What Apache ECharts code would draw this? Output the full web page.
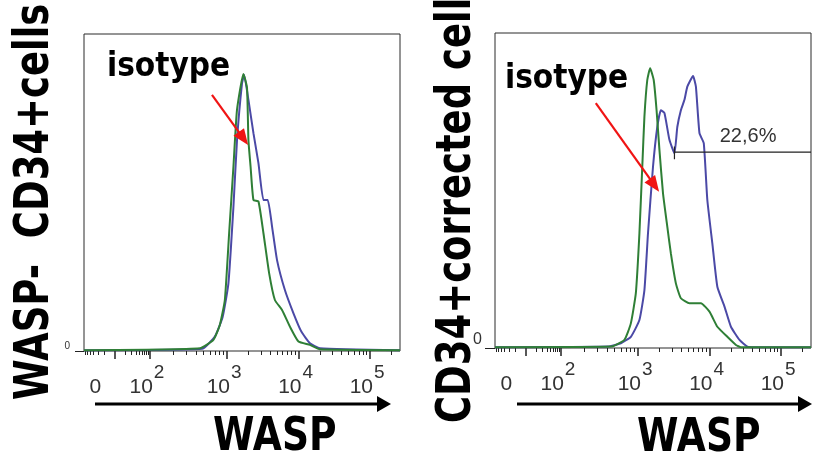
<!DOCTYPE html>
<html>
<head>
<meta charset="utf-8">
<script src="https://cdn.jsdelivr.net/npm/echarts@6.0.0/dist/echarts.min.js"></script>
<style>
html, body { margin: 0; padding: 0; background: #fff; }
#chart { width: 813px; height: 454px; }
</style>
</head>
<body>
<div id="chart"></div>
<script>
// x is in display units of the cytometer scale: 3 = 10^3, 4 = 10^4, 5 = 10^5
// y is % of mode (isotype peak = 100)

// WASP- CD34+ cells (left panel)
var leftIsoX  = [1.0, 2.62, 2.81, 2.90, 2.97, 3.03, 3.09, 3.14, 3.23, 3.28, 3.30, 3.33, 3.37, 3.44, 3.51, 3.59, 3.67, 3.77, 3.88, 4.00, 4.16, 4.30, 5.42];
var leftIsoY  = [0.3, 1.0, 4, 9.4, 18.4, 42.5, 66.5, 87, 100, 95, 76, 66.5, 54.5, 54, 42.5, 28, 18.4, 14.8, 8.8, 3.4, 2.2, 0.6, 0.3];
var leftWaspX = [1.0, 2.65, 2.83, 2.94, 3.02, 3.09, 3.14, 3.21, 3.24, 3.30, 3.37, 3.44, 3.51, 3.57, 3.63, 3.70, 3.81, 3.93, 4.04, 4.16, 4.30, 5.42];
var leftWaspY = [0.3, 0.8, 5.2, 12.4, 24.4, 52, 76, 96.6, 99.6, 90.6, 78.6, 67.8, 54.5, 54.5, 45, 32.8, 22, 13.6, 7, 2.8, 1, 0.3];

// CD34+ corrected cells (right panel)
var rightIsoX  = [1.0, 2.62, 2.81, 2.90, 2.97, 3.02, 3.06, 3.09, 3.13, 3.17, 3.22, 3.26, 3.30, 3.35, 3.41, 3.46, 3.53, 3.60, 3.72, 3.88, 4.00, 4.11, 4.25, 4.37, 4.44, 5.42];
var rightIsoY  = [0.3, 0.5, 2.9, 8.8, 19.6, 41, 64.8, 82.7, 95.8, 100, 95.8, 85, 70.8, 55.3, 43.4, 33.8, 23.1, 17.8, 16, 16, 13, 7.6, 4, 1.1, 0.3, 0.3];
var rightWaspX = [1.0, 2.58, 2.76, 2.90, 3.02, 3.09, 3.14, 3.21, 3.27, 3.32, 3.37, 3.44, 3.51, 3.55, 3.60, 3.65, 3.69, 3.77, 3.81, 3.86, 3.92, 3.97, 4.04, 4.11, 4.21, 4.30, 4.42, 4.53, 4.62, 5.42];
var rightWaspY = [0.3, 0.5, 1.7, 4, 10, 20.7, 41, 64.8, 79, 85, 84, 74.4, 69.6, 79, 85, 88.7, 93.4, 97.2, 93.4, 76.8, 73.2, 52.9, 37.4, 21.9, 14.8, 7.6, 2.9, 0.5, 0.3, 0.3];

// gate on the right panel
var gateX = [3.51, 3.51, 3.51, 5.42];
var gateY = [72, 67.5, 70, 70];
var gateLabelPos = [4.54, 70];
var gateText = '22,6%';

// red "isotype" arrows [start, end]
var leftArrow  = [[2.79, 92.4], [3.23, 76.7]];
var rightArrow = [[2.41, 87.5], [3.23, 58.2]];

// axis scale
var xMin = 1.0, xMax = 5.42;
var zeroPos = 1.43, decade2 = 1.92;
var majorTicks = [zeroPos, decade2, 3, 4, 5];
var tickLabelPos = [1.16, 1.88, 2.96, 3.96, 4.96];
var tickLabels = ['{b|0}', '{b|10}{s|2}', '{b|10}{s|3}', '{b|10}{s|4}', '{b|10}{s|5}'];

var minorTicks = [];
(function () {
    var k, v;
    for (k = 2; k <= 9; k++) {
        v = zeroPos - (decade2 - zeroPos) * Math.log10(k);
        if (v >= xMin) minorTicks.push(v);
        minorTicks.push(zeroPos + (decade2 - zeroPos) * Math.log10(k));
        minorTicks.push(decade2 + (3 - decade2) * Math.log10(k));
        minorTicks.push(3 + Math.log10(k));
        minorTicks.push(4 + Math.log10(k));
        v = 5 + Math.log10(k);
        if (v <= xMax) minorTicks.push(v);
    }
})();

function zip(xs, ys) {
    return xs.map(function (x, i) { return [x, ys[i]]; });
}

var labelFont = '"Liberation Sans", Arial, sans-serif';
var titleFont = '"DejaVu Sans", sans-serif';
var blue = '#4b49a6';
var green = '#2f7f36';

function majorAxis(g) {
    return {
        gridIndex: g, type: 'value', position: 'bottom', min: xMin, max: xMax,
        axisLine: { show: false },
        splitLine: { show: false },
        axisTick: { show: true, length: 8, customValues: majorTicks, lineStyle: { color: '#222', width: 1.5 } },
        axisLabel: {
            show: true,
            customValues: tickLabelPos,
            margin: 12,
            fontSize: 21,
            fontFamily: labelFont,
            color: '#333',
            formatter: function (val) {
                for (var i = 0; i < tickLabelPos.length; i++) {
                    if (Math.abs(tickLabelPos[i] - val) < 1e-6) return tickLabels[i];
                }
                return '';
            },
            rich: {
                b: { fontSize: 21, fontFamily: labelFont, color: '#333', lineHeight: 20, padding: [14, 0, 0, 0], verticalAlign: 'top' },
                s: { fontSize: 19, fontFamily: labelFont, color: '#333', lineHeight: 18, padding: [0, 0, 0, 1], verticalAlign: 'top' }
            }
        }
    };
}

function minorAxis(g) {
    return {
        gridIndex: g, type: 'value', position: 'bottom', min: xMin, max: xMax,
        axisLine: { show: false },
        splitLine: { show: false },
        axisLabel: { show: false },
        axisTick: { show: true, length: 4, customValues: minorTicks, lineStyle: { color: '#222', width: 1 } }
    };
}

function yAxis(g, max, fontSize, margin, tickLen) {
    return {
        gridIndex: g, type: 'value', min: 0, max: max,
        axisLine: { show: false },
        splitLine: { show: false },
        axisTick: { show: true, customValues: [0], length: tickLen, lineStyle: { color: '#222', width: 1 } },
        axisLabel: {
            customValues: [0], fontSize: fontSize, margin: margin, color: '#333',
            fontFamily: labelFont, verticalAlign: 'bottom', lineHeight: fontSize
        }
    };
}

function histLine(name, xi, yi, data, color, z) {
    return {
        name: name, type: 'line', xAxisIndex: xi, yAxisIndex: yi,
        data: data, showSymbol: false, smooth: 0.15, z: z,
        lineStyle: { color: color, width: 2 }
    };
}

function arrowMark(arrow) {
    return {
        silent: true,
        symbol: ['none', 'triangle'],
        symbolSize: [13, 16],
        label: { show: false },
        lineStyle: { color: '#f01414', width: 2.2, type: 'solid' },
        itemStyle: { color: '#f01414' },
        data: [[{ coord: arrow[0] }, { coord: arrow[1] }]]
    };
}

var leftIso = histLine('isotype', 0, 0, zip(leftIsoX, leftIsoY), green, 3);
leftIso.markLine = arrowMark(leftArrow);
var rightIso = histLine('isotype', 2, 1, zip(rightIsoX, rightIsoY), green, 3);
rightIso.markLine = arrowMark(rightArrow);

var chart = echarts.init(document.getElementById('chart'));
var option = {
    animation: false,
    backgroundColor: '#fff',
    grid: [
        { left: 84, right: 413, top: 34, bottom: 103, show: true, borderColor: '#2a2a2a', borderWidth: 1 },
        { left: 495, right: 2, top: 33, bottom: 106, show: true, borderColor: '#2a2a2a', borderWidth: 1 }
    ],
    xAxis: [majorAxis(0), minorAxis(0), majorAxis(1), minorAxis(1)],
    yAxis: [yAxis(0, 114.4, 10, 14, 9), yAxis(1, 112.6, 16, 13, 10)],
    series: [
        histLine('WASP', 0, 0, zip(leftWaspX, leftWaspY), blue, 2),
        leftIso,
        histLine('WASP', 2, 1, zip(rightWaspX, rightWaspY), blue, 2),
        rightIso,
        {
            name: 'gate', type: 'line', xAxisIndex: 2, yAxisIndex: 1,
            data: zip(gateX, gateY), showSymbol: false, z: 4,
            lineStyle: { color: '#222', width: 1.2 },
            markPoint: {
                symbol: 'rect', symbolSize: 1,
                itemStyle: { color: 'rgba(0,0,0,0)' },
                label: { show: true, position: 'top', distance: 5, formatter: gateText, fontSize: 20, color: '#333', fontFamily: labelFont },
                data: [{ coord: gateLabelPos }]
            }
        }
    ],
    graphic: [
        { type: 'text', x: 35.5, y: 400, rotation: Math.PI / 2, scaleX: 0.77,
          style: { text: 'WASP-  CD34+cells', font: 'bold 48px ' + titleFont, fill: '#000', textAlign: 'left', textVerticalAlign: 'middle' } },
        { type: 'text', x: 458, y: 423, rotation: Math.PI / 2, scaleX: 0.77,
          style: { text: 'CD34+corrected cells', font: 'bold 48px ' + titleFont, fill: '#000', textAlign: 'left', textVerticalAlign: 'middle' } },
        { type: 'text', x: 107, y: 51, scaleX: 0.9,
          style: { text: 'isotype', font: 'bold 33px ' + titleFont, fill: '#000', textAlign: 'left', textVerticalAlign: 'top' } },
        { type: 'text', x: 505, y: 63, scaleX: 0.9,
          style: { text: 'isotype', font: 'bold 33px ' + titleFont, fill: '#000', textAlign: 'left', textVerticalAlign: 'top' } },
        { type: 'text', x: 213, y: 438, scaleX: 0.8,
          style: { text: 'WASP', font: 'bold 47px ' + titleFont, fill: '#000', textAlign: 'left', textVerticalAlign: 'middle' } },
        { type: 'text', x: 637, y: 439, scaleX: 0.8,
          style: { text: 'WASP', font: 'bold 47px ' + titleFont, fill: '#000', textAlign: 'left', textVerticalAlign: 'middle' } },
        { type: 'line', shape: { x1: 95, y1: 404, x2: 380, y2: 404 }, style: { stroke: '#000', lineWidth: 3 } },
        { type: 'polygon', shape: { points: [[377, 396], [391, 404], [377, 412]] }, style: { fill: '#000' } },
        { type: 'line', shape: { x1: 517, y1: 404, x2: 801, y2: 404 }, style: { stroke: '#000', lineWidth: 3 } },
        { type: 'polygon', shape: { points: [[798, 396], [812, 404], [798, 412]] }, style: { fill: '#000' } }
    ]
};
chart.setOption(option);
</script>
</body>
</html>
